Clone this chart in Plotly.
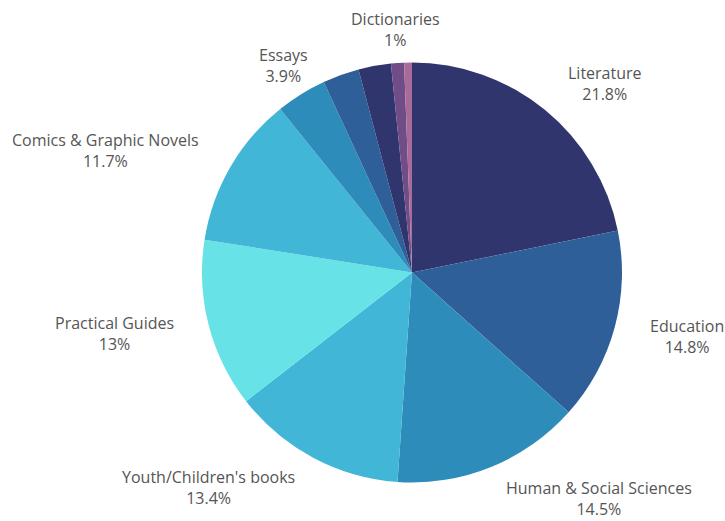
import math
import plotly.graph_objects as go

# Share of titles by genre (percent)
genres = [
    "Literature", "Education", "Human & Social Sciences", "Youth/Children's books",
    "Practical Guides", "Comics & Graphic Novels", "Essays", "Arts",
    "Religion", "Dictionaries", "Other",
]
shares = [21.8, 14.8, 14.5, 13.4, 13.0, 11.7, 3.9, 2.8, 2.5, 1.0, 0.6]
# which slices carry an outside label
labelled = [True, True, True, True, True, True, True, False, False, True, False]

colors = [
    "#31356e", "#2e5f98", "#2e8cba", "#41b6d6", "#67e3e8", "#41b6d6",
    "#2e8cba", "#2e5f98", "#31356e", "#704d87", "#a86b9a",
]

W, H = 725, 521
CX, CY = 412, 272.5   # pie centre in pixels (from top-left)
R_PIE = 210           # pie radius
R_LABEL = 244         # radius of the label anchor ring
FONT = dict(family="Open Sans", size=16, color="#555555")

fig = go.Figure(go.Pie(
    labels=genres,
    values=shares,
    textinfo="none",
    sort=False,
    direction="clockwise",
    rotation=0,
    domain=dict(
        x=[(CX - R_PIE) / W, (CX + R_PIE) / W],
        y=[(H - CY - R_PIE) / H, (H - CY + R_PIE) / H],
    ),
    marker=dict(colors=colors, line=dict(width=0)),
    showlegend=False,
    hoverinfo="label+percent",
))

# outside labels: anchored on a ring at each slice's mid-angle,
# growing away from the pie sideways, centred for slices near the top
total = sum(shares)
start = 0.0
for g, s, show in zip(genres, shares, labelled):
    mid = (start + s / 2) / total * 2 * math.pi
    start += s
    if not show:
        continue
    sx, cy = math.sin(mid), math.cos(mid)
    px = CX + R_LABEL * sx
    py = CY - R_LABEL * cy
    if cy > 0.8:
        xanchor = "center"
    else:
        xanchor = "left" if sx > 0 else "right"
    fig.add_annotation(
        x=px / W, y=(H - py) / H, xref="paper", yref="paper",
        text=f"{g}<br>{s:g}%",
        showarrow=False, xanchor=xanchor, yanchor="middle", align="center",
        font=FONT,
    )

fig.update_layout(
    width=W,
    height=H,
    margin=dict(l=0, r=0, t=0, b=0),
    paper_bgcolor="white",
    plot_bgcolor="white",
)

fig.write_html("out.html")
